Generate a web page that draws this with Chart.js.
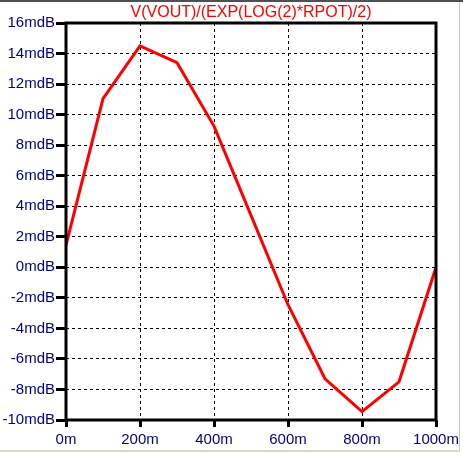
<!DOCTYPE html>
<html>
<head>
<meta charset="utf-8">
<script src="https://cdn.jsdelivr.net/npm/chart.js@4"></script>
<style>
  html, body { margin: 0; padding: 0; background: #fff; }
  #wrap { position: relative; width: 463px; height: 455px; overflow: hidden; }
  #frameTop { position: absolute; left: 0; top: 0; width: 463px; height: 2px; background: #505050; }
  #frameRight { position: absolute; left: 459px; top: 2px; width: 1px; height: 450px; background: #c8c8c8; }
  #frameBottom { position: absolute; left: 0; top: 450px; width: 460px; height: 2px; background: #d8d6d0; }
</style>
</head>
<body>
<div id="wrap">
  <canvas id="grafico" width="463" height="455"></canvas>
  <div id="frameTop"></div>
  <div id="frameRight"></div>
  <div id="frameBottom"></div>
</div>
<script>
// valores (x em m, y em mdB)
const rpot = [0, 100, 200, 300, 400, 500, 600, 700, 800, 900, 1000];
const ganho = [1.45, 11.05, 14.5, 13.4, 9.25, 3.4, -2.45, -7.3, -9.45, -7.5, 0];
const titulo = 'V(VOUT)/(EXP(LOG(2)*RPOT)/2)';

const fonte = "'Liberation Sans', Arial, sans-serif";
const corTexto = '#000080';

// moldura grossa e titulo
const molduraPlugin = {
  id: 'moldura',
  afterDraw(chart) {
    const { ctx, chartArea } = chart;
    ctx.save();
    ctx.lineWidth = 3;
    ctx.strokeStyle = '#000';
    ctx.strokeRect(chartArea.left, chartArea.top, chartArea.right - chartArea.left, chartArea.bottom - chartArea.top);
    ctx.fillStyle = '#ff0000';
    ctx.font = '16px ' + fonte;
    ctx.textAlign = 'center';
    ctx.textBaseline = 'alphabetic';
    ctx.fillText(titulo, (chartArea.left + chartArea.right) / 2, 17);
    ctx.restore();
  }
};

const grafico = document.getElementById('grafico');
new Chart(grafico, {
  type: 'line',
  data: {
    datasets: [{
      label: titulo,
      data: rpot.map((x, i) => ({ x: x, y: ganho[i] })),
      borderColor: '#ff0000',
      borderWidth: 3,
      pointRadius: 0,
      tension: 0,
      fill: false
    }]
  },
  options: {
    responsive: false,
    animation: false,
    layout: { padding: { top: 23, right: 27, left: 0, bottom: 0 } },
    plugins: {
      legend: { display: false },
      title: { display: false },
      tooltip: { enabled: false }
    },
    scales: {
      x: {
        type: 'linear',
        min: 0,
        max: 1000,
        afterFit(scale) { scale.height = 35; },
        ticks: {
          stepSize: 200,
          padding: 4,
          color: corTexto,
          font: { family: fonte, size: 15 },
          maxRotation: 0,
          callback: v => v + 'm'
        },
        grid: {
          color: '#000',
          lineWidth: 1,
          tickLength: 7,
          tickWidth: 3,
          tickColor: '#000'
        },
        border: { display: false, dash: [3, 3] }
      },
      y: {
        min: -10,
        max: 16,
        afterFit(scale) { scale.width = 66; },
        ticks: {
          stepSize: 2,
          padding: 1,
          color: corTexto,
          font: { family: fonte, size: 15 },
          callback: v => v + 'mdB'
        },
        grid: {
          color: '#000',
          lineWidth: 1,
          tickLength: 10,
          tickWidth: 3,
          tickColor: '#000'
        },
        border: { display: false, dash: [3, 3] }
      }
    }
  },
  plugins: [molduraPlugin]
});
</script>
</body>
</html>
